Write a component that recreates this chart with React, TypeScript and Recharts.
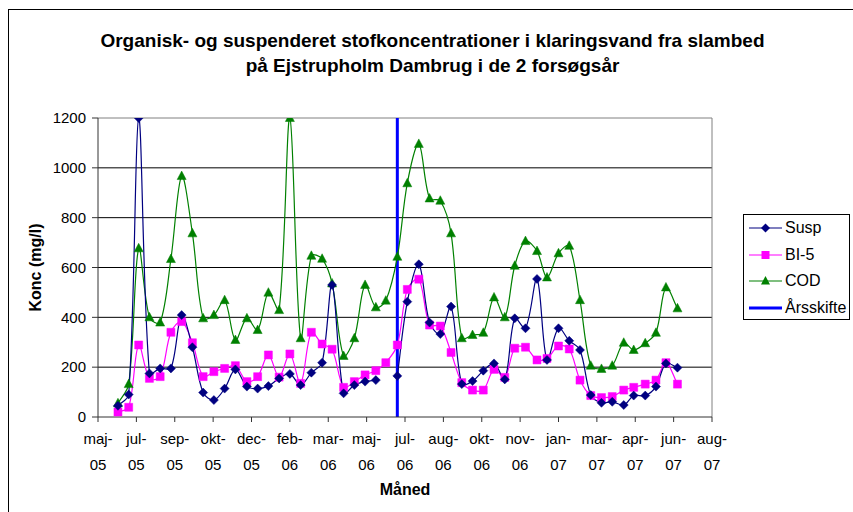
import { LineChart, Line, XAxis, YAxis, CartesianGrid, ReferenceLine, Legend } from 'recharts';

const DAY = 24 * 60 * 60 * 1000;
const FONT = "'Liberation Sans', Arial, sans-serif";

// sampling dates (roughly every 14 days)
const sampleDates = [
  '2005-06-23', '2005-07-07', '2005-07-20', '2005-08-03', '2005-08-17', '2005-08-31',
  '2005-09-14', '2005-09-28', '2005-10-12', '2005-10-26', '2005-11-09', '2005-11-23',
  '2005-12-08', '2005-12-22', '2006-01-05', '2006-01-19', '2006-02-02', '2006-02-16',
  '2006-03-02', '2006-03-16', '2006-03-29', '2006-04-13', '2006-04-27', '2006-05-11',
  '2006-05-25', '2006-06-07', '2006-06-22', '2006-07-05', '2006-07-20', '2006-08-03',
  '2006-08-17', '2006-08-31', '2006-09-14', '2006-09-28', '2006-10-12', '2006-10-26',
  '2006-11-09', '2006-11-22', '2006-12-06', '2006-12-21', '2007-01-03', '2007-01-18',
  '2007-02-01', '2007-02-15', '2007-03-01', '2007-03-15', '2007-03-29', '2007-04-13',
  '2007-04-26', '2007-05-11', '2007-05-25', '2007-06-07', '2007-06-22',
];

const suspValues: (number | null)[] = [
  45, 90, 1200, 175, 195, 195, 409, 280, 98, 68, 114, 191,
  122, 114, 124, 155, 173, 128, 178, 218, 530, 95, 128, 142,
  148, null, 165, 463, 613, 379, 333, 443, 132, 144, 186, 215,
  151, 396, 356, 554, 229, 356, 306, 269, 88, 57, 61, 48,
  86, 86, 122, 215, 198,
];

const bi5Values = [
  20, 39, 289, 155, 162, 340, 383, 298, 162, 182, 195, 206,
  142, 162, 249, 160, 253, 135, 340, 293, 272, 119, 142, 169,
  186, 218, 289, 512, 553, 369, 365, 259, 138, 108, 108, 191,
  159, 276, 280, 229, 235, 285, 273, 148, 86, 78, 82, 108,
  119, 132, 148, 218, 132,
];

const codValues = [
  55, 132, 677, 400, 379, 634, 967, 737, 396, 409, 469, 309,
  396, 349, 499, 429, 1200, 316, 647, 635, 536, 245, 316, 530,
  440, 467, 643, 938, 1096, 877, 868, 737, 316, 329, 338, 480,
  400, 607, 706, 666, 560, 657, 687, 469, 206, 193, 206, 298,
  269, 296, 338, 520, 436,
];

const yearChangeDate = '2006-06-22';

const xStartDate = '2005-05-28';
const xTickStepDays = 50;
const xTickLabels = [
  'maj-05', 'jul-05', 'sep-05', 'okt-05', 'dec-05', 'feb-06', 'mar-06', 'maj-06', 'jul-06',
  'aug-06', 'okt-06', 'nov-06', 'jan-07', 'mar-07', 'apr-07', 'jun-07', 'aug-07',
];
const yTicks = [0, 200, 400, 600, 800, 1000, 1200];

const toTime = (d: string) => Date.parse(d + 'T00:00:00Z');

const xStart = toTime(xStartDate);
const xTicks = xTickLabels.map((_, i) => xStart + i * xTickStepDays * DAY);
const xEnd = xTicks[xTicks.length - 1];

const chartData = sampleDates.map((d, i) => ({
  t: toTime(d),
  susp: suspValues[i],
  bi5: bi5Values[i],
  cod: codValues[i],
}));

const yearChangeData = [
  { t: toTime(yearChangeDate), y: 0 },
  { t: toTime(yearChangeDate), y: 1200 },
];

const legendItems = [
  { name: 'Susp', color: '#000080', marker: 'diamond' },
  { name: 'BI-5', color: '#FF00FF', marker: 'square' },
  { name: 'COD', color: '#008000', marker: 'triangle' },
  { name: 'Årsskifte', color: '#0000FF', marker: 'none' },
];

// Excel-like smoothed line: bezier with tangents scaled by chord length
const smoothCurve: any = (context: any) => {
  let pts: number[][] = [];
  const dist = (a: number[], b: number[]) => Math.hypot(a[0] - b[0], a[1] - b[1]);
  return {
    areaStart() {},
    areaEnd() {},
    lineStart() {
      pts = [];
    },
    point(x: number, y: number) {
      pts.push([+x, +y]);
    },
    lineEnd() {
      if (!pts.length) return;
      context.moveTo(pts[0][0], pts[0][1]);
      for (let i = 0; i < pts.length - 1; i++) {
        const p0 = pts[i - 1] || pts[i];
        const p1 = pts[i];
        const p2 = pts[i + 1];
        const p3 = pts[i + 2] || p2;
        const d01 = dist(p0, p1);
        const d12 = dist(p1, p2);
        const d23 = dist(p2, p3);
        const k1 = d01 + d12 > 0 ? d12 / (3 * (d01 + d12)) : 0;
        const k2 = d12 + d23 > 0 ? d12 / (3 * (d12 + d23)) : 0;
        context.bezierCurveTo(
          p1[0] + (p2[0] - p0[0]) * k1,
          p1[1] + (p2[1] - p0[1]) * k1,
          p2[0] - (p3[0] - p1[0]) * k2,
          p2[1] - (p3[1] - p1[1]) * k2,
          p2[0],
          p2[1]
        );
      }
    },
  };
};

const markerPath = (marker: string, cx: number, cy: number) => {
  if (marker === 'diamond') return `M${cx},${cy - 4.5}L${cx + 4.5},${cy}L${cx},${cy + 4.5}L${cx - 4.5},${cy}Z`;
  if (marker === 'square') return `M${cx - 4},${cy - 4}h8v8h-8Z`;
  if (marker === 'triangle') return `M${cx},${cy - 5}L${cx + 4.5},${cy + 3.5}L${cx - 4.5},${cy + 3.5}Z`;
  return '';
};

const makeDot = (marker: string, color: string) => (props: any) => {
  const { cx, cy, index } = props;
  if (cx == null || cy == null || props.value == null) return <g key={`${marker}-${index}`} />;
  return <path key={`${marker}-${index}`} d={markerPath(marker, cx, cy)} fill={color} stroke={color} strokeWidth={0.5} />;
};

const MonthTick = ({ x, y, payload }: any) => {
  const idx = Math.round((payload.value - xStart) / (xTickStepDays * DAY));
  const label = xTickLabels[idx] ?? '';
  const [mon, yr] = label.split('-');
  return (
    <text x={x} y={y} textAnchor="middle" fontSize={15} fill="#000" fontFamily={FONT}>
      <tspan x={x} dy={20}>{mon}-</tspan>
      <tspan x={x} dy={26}>{yr}</tspan>
    </text>
  );
};

const LegendBox = () => (
  <div
    style={{
      border: '1px solid #000',
      background: '#fff',
      width: 107,
      height: 106,
      boxSizing: 'border-box',
      paddingTop: 0,
      fontFamily: FONT,
      fontSize: 16,
      color: '#000',
    }}
  >
    {legendItems.map((item) => (
      <div key={item.name} style={{ display: 'flex', alignItems: 'center', height: 26.5, paddingLeft: 5 }}>
        <svg width={33} height={12} style={{ display: 'block' }}>
          <line x1={0} x2={33} y1={6} y2={6} stroke={item.color} strokeWidth={item.marker === 'none' ? 3 : 1.2} />
          {item.marker !== 'none' && <path d={markerPath(item.marker, 16.5, 6)} fill={item.color} />}
        </svg>
        <span style={{ marginLeft: 3, lineHeight: '16px' }}>{item.name}</span>
      </div>
    ))}
  </div>
);

export default function App() {
  return (
    <div
      style={{
        position: 'absolute',
        left: 0,
        top: 0,
        width: 853,
        height: 512,
        overflow: 'hidden',
        background: '#fff',
      }}
    >
      <div
        style={{
          position: 'absolute',
          left: 8,
          top: 9,
          width: 900,
          height: 600,
          border: '1px solid #000',
        }}
      />
      <div
        style={{
          position: 'absolute',
          left: 8,
          top: 28,
          width: 849,
          textAlign: 'center',
          fontFamily: FONT,
          fontWeight: 'bold',
          fontSize: 19,
          lineHeight: '25px',
          color: '#000',
        }}
      >
        Organisk- og suspenderet stofkoncentrationer i klaringsvand fra slambed
        <br />
        på Ejstrupholm Dambrug i de 2 forsøgsår
      </div>
      <div style={{ position: 'absolute', left: 0, top: 0 }}>
        <LineChart width={853} height={512} data={chartData} margin={{ top: 118, right: 141, bottom: 15, left: 20 }}>
          <CartesianGrid vertical={false} stroke="#000" horizontalValues={[200, 400, 600, 800, 1000]} />
          <XAxis
            dataKey="t"
            type="number"
            domain={[xStart, xEnd]}
            ticks={xTicks}
            allowDataOverflow
            height={80}
            tick={<MonthTick />}
            tickSize={5}
            tickMargin={2}
            interval={0}
            axisLine={{ stroke: '#333' }}
            tickLine={{ stroke: '#333' }}
            label={{
              value: 'Måned',
              position: 'insideBottom',
              offset: 2,
              style: { fontFamily: FONT, fontWeight: 'bold', fontSize: 16, fill: '#000' },
            }}
          />
          <YAxis
            type="number"
            domain={[0, 1200]}
            ticks={yTicks}
            allowDataOverflow
            width={78}
            tickSize={6}
            tickMargin={6}
            tick={{ fontFamily: FONT, fontSize: 15, fill: '#000' }}
            axisLine={{ stroke: '#333' }}
            tickLine={{ stroke: '#333' }}
            label={{
              value: 'Konc (mg/l)',
              angle: -90,
              position: 'insideLeft',
              offset: 15,
              style: { fontFamily: FONT, fontWeight: 'bold', fontSize: 16, fill: '#000', textAnchor: 'middle' },
            }}
          />
          <ReferenceLine y={1200} stroke="#808080" />
          <ReferenceLine x={xEnd} stroke="#808080" />
          <Line
            data={yearChangeData}
            dataKey="y"
            stroke="#0000FF"
            strokeWidth={3}
            dot={false}
            activeDot={false}
            isAnimationActive={false}
            legendType="none"
          />
          <Line
            dataKey="cod"
            name="COD"
            type={smoothCurve}
            stroke="#008000"
            strokeWidth={1.2}
            dot={makeDot('triangle', '#008000')}
            activeDot={false}
            isAnimationActive={false}
          />
          <Line
            dataKey="bi5"
            name="BI-5"
            type={smoothCurve}
            stroke="#FF00FF"
            strokeWidth={1.2}
            dot={makeDot('square', '#FF00FF')}
            activeDot={false}
            isAnimationActive={false}
          />
          <Line
            dataKey="susp"
            name="Susp"
            type={smoothCurve}
            stroke="#000080"
            strokeWidth={1.2}
            dot={makeDot('diamond', '#000080')}
            activeDot={false}
            isAnimationActive={false}
          />
          <Legend
            layout="vertical"
            align="center"
            verticalAlign="middle"
            content={<LegendBox />}
            wrapperStyle={{ left: 743, top: 214, width: 107, height: 106 }}
          />
        </LineChart>
      </div>
    </div>
  );
}
